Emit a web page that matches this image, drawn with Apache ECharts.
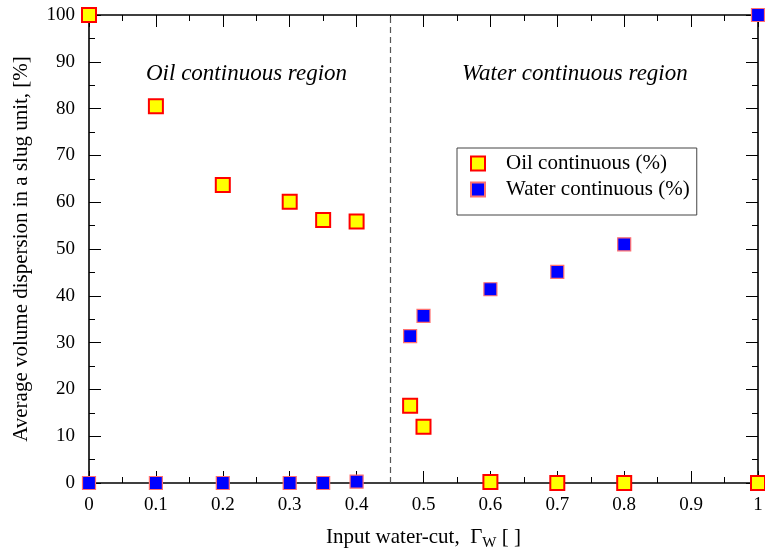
<!DOCTYPE html>
<html>
<head>
<meta charset="utf-8">
<script src="https://cdn.jsdelivr.net/npm/echarts@6/dist/echarts.min.js"></script>
<style>
  html, body { margin: 0; padding: 0; background: #fff; }
  #chart { width: 765px; height: 550px; }
</style>
</head>
<body>
<div id="chart"></div>
<script>
// Input water-cut values (x) and the measured dispersion fractions (%)
const waterCut = [0, 0.1, 0.2, 0.3, 0.35, 0.4, 0.48, 0.5, 0.6, 0.7, 0.8, 1.0];
const oilContinuous = [100, 80.5, 63.7, 60.1, 56.2, 55.9, 16.5, 12.0, 0.2, 0.0, 0.0, 0.0];
const waterContinuous = [0.0, 0.0, 0.0, 0.0, 0.0, 0.3, 31.4, 35.7, 41.4, 45.1, 51.0, 100];
const regionBoundary = 0.445;

const FONT = '"Liberation Serif", "Times New Roman", serif';

const pairs = (xs, ys) => xs.map((x, i) => [x, ys[i]]);

const chart = echarts.init(document.getElementById('chart'), null, { renderer: 'canvas' });

const tickStyle = {
  axisLine: { show: true, onZero: false, lineStyle: { color: '#000', width: 1.6 } },
  axisTick: { show: true, inside: true, length: 12, lineStyle: { color: '#000', width: 1 } },
  minorTick: { show: true, splitNumber: 2, length: 6, lineStyle: { color: '#000', width: 1 } },
  splitLine: { show: false },
  minorSplitLine: { show: false }
};
const baseX = Object.assign({ type: 'value', min: 0, max: 1, interval: 0.1 }, tickStyle);
const baseY = Object.assign({ type: 'value', min: 0, max: 100, interval: 10 }, tickStyle);

chart.setOption({
  animation: false,
  backgroundColor: '#fff',
  grid: { left: 89, right: 7, top: 15, bottom: 67, containLabel: false, outerBoundsMode: 'none' },
  xAxis: [
    Object.assign({}, baseX, {
      position: 'bottom',
      name: '{n|Input water-cut,  Γ}{s|W}{n| [ ]}',
      nameLocation: 'middle',
      nameGap: 41,
      nameTextStyle: {
        rich: {
          n: { fontFamily: FONT, fontSize: 21, color: '#000' },
          s: { fontFamily: FONT, fontSize: 15, color: '#000', padding: [12, 0, 0, 0] }
        }
      },
      axisLabel: {
        fontFamily: FONT, fontSize: 19, color: '#000', margin: 13,
        formatter: v => (Math.abs(v - 1) < 1e-9 ? '1' : (Math.abs(v) < 1e-9 ? '0' : v.toFixed(1)))
      }
    }),
    Object.assign({}, baseX, { position: 'top', axisLabel: { show: false } })
  ],
  yAxis: [
    Object.assign({}, baseY, {
      position: 'left',
      name: 'Average volume dispersion in a slug unit, [%]',
      nameLocation: 'middle',
      nameGap: 57,
      nameTextStyle: { fontFamily: FONT, fontSize: 21, color: '#000' },
      axisLabel: { fontFamily: FONT, fontSize: 19, color: '#000', margin: 14 }
    }),
    Object.assign({}, baseY, { position: 'right', axisLabel: { show: false } })
  ],
  legend: {
    orient: 'vertical',
    left: 457, top: 148,
    backgroundColor: '#fff',
    borderColor: '#444', borderWidth: 1,
    padding: [5, 7, 15, 13],
    itemGap: 5,
    itemWidth: 14, itemHeight: 14,
    textStyle: { fontFamily: FONT, fontSize: 21, color: '#000', padding: [0, 0, 0, 16] },
    data: [
      { name: 'Oil continuous (%)', icon: 'rect' },
      { name: 'Water continuous (%)', icon: 'rect' }
    ]
  },
  series: [
    {
      name: 'Water continuous (%)',
      type: 'scatter',
      symbol: 'rect',
      symbolSize: 13,
      clip: false,
      itemStyle: { color: '#0000ff', borderColor: '#ff7070', borderWidth: 1.2, opacity: 1 },
      data: pairs(waterCut, waterContinuous),
      z: 3,
      markLine: {
        silent: true,
        symbol: 'none',
        label: { show: false },
        lineStyle: { color: '#555', type: [6, 4], width: 1.2 },
        data: [{ xAxis: regionBoundary }]
      }
    },
    {
      name: 'Oil continuous (%)',
      type: 'scatter',
      symbol: 'rect',
      symbolSize: 14,
      clip: false,
      itemStyle: { color: '#ffff00', borderColor: '#ff0000', borderWidth: 2, opacity: 1 },
      data: pairs(waterCut, oilContinuous),
      z: 4
    }
  ],
  graphic: [
    {
      type: 'text', left: 146, top: 62,
      style: { text: 'Oil continuous region', font: 'italic 23px ' + FONT, fill: '#000' }
    },
    {
      type: 'text', left: 462, top: 62,
      style: { text: 'Water continuous region', font: 'italic 23px ' + FONT, fill: '#000' }
    }
  ]
});
</script>
</body>
</html>
